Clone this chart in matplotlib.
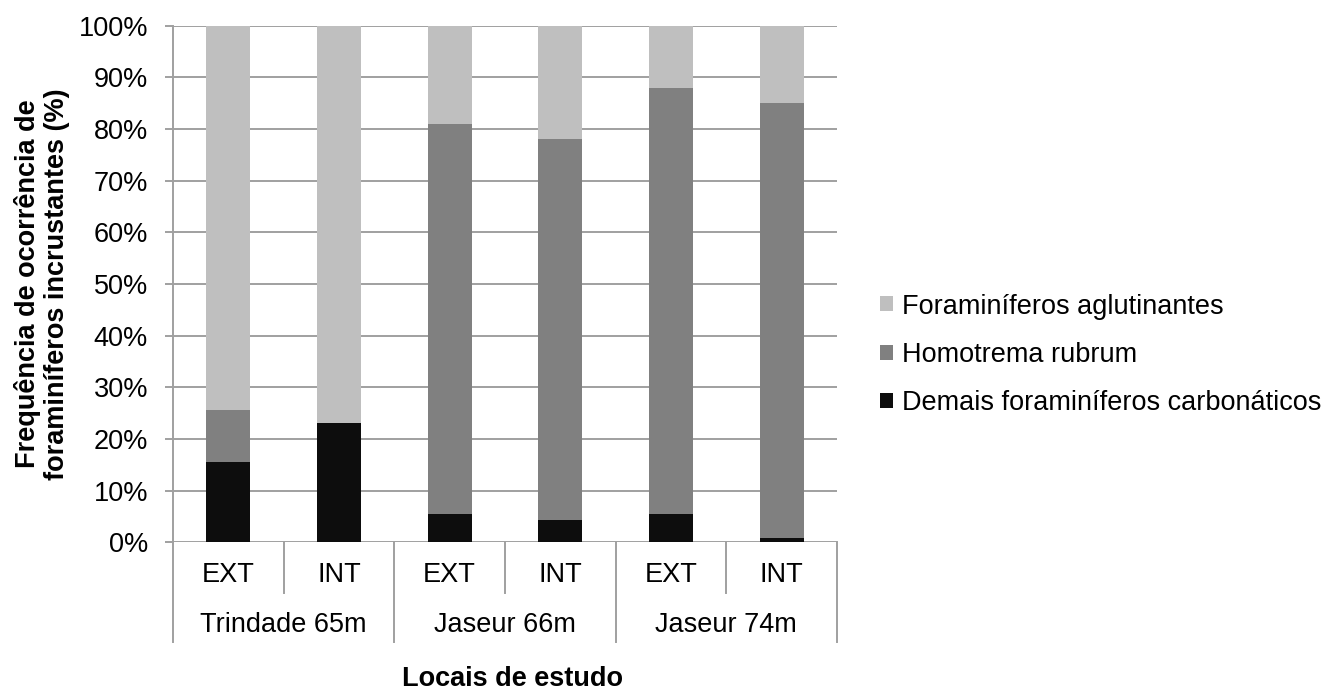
import matplotlib
matplotlib.use("Agg")
import matplotlib.pyplot as plt
from matplotlib.patches import Patch
import numpy as np

plt.rcParams['font.family'] = ['Liberation Sans', 'DejaVu Sans']

# Sampling sites and positions
sites = ["Trindade 65m", "Jaseur 66m", "Jaseur 74m"]
positions = ["EXT", "INT", "EXT", "INT", "EXT", "INT"]

# Frequency of occurrence (%) per group of encrusting foraminifera
demais_carbonaticos = [15.5, 23.0, 5.5, 4.3, 5.5, 0.9]
homotrema_rubrum = [10.2, 0.0, 75.4, 73.7, 82.4, 84.1]
aglutinantes = [74.3, 77.0, 19.1, 22.0, 12.1, 15.0]

series_names = ["Foraminíferos aglutinantes", "Homotrema rubrum",
                "Demais foraminíferos carbonáticos"]
c_light, c_mid, c_dark = "#BFBFBF", "#808080", "#0D0D0D"
grid_c = "#A0A0A0"
fs = 19.5

W, H = 1331, 690
fig = plt.figure(figsize=(W / 100, H / 100), dpi=100)
ax_left, ax_right, ax_top, ax_bot = 173, 837, 25.7, 542.3
ax = fig.add_axes([ax_left / W, 1 - ax_bot / H,
                   (ax_right - ax_left) / W, (ax_bot - ax_top) / H])

x = np.arange(len(positions))
bw = 0.4
b1 = np.array(demais_carbonaticos)
b2 = np.array(homotrema_rubrum)
b3 = np.array(aglutinantes)
ax.bar(x, b1, bw, color=c_dark, zorder=3)
ax.bar(x, b2, bw, bottom=b1, color=c_mid, zorder=3)
ax.bar(x, b3, bw, bottom=b1 + b2, color=c_light, zorder=3)

ax.set_xlim(-0.5, len(positions) - 0.5)
ax.set_ylim(0, 100)
ax.set_yticks(np.arange(0, 101, 10))
ax.set_yticklabels([f"{v}%" for v in range(0, 101, 10)], fontsize=fs)
ax.yaxis.grid(True, color=grid_c, linewidth=1.4, zorder=0)
ax.set_axisbelow(True)
ax.tick_params(axis='y', length=6, width=1.4, color=grid_c, pad=12)
ax.set_xticks([])
for s in ["top", "right", "bottom"]:
    ax.spines[s].set_visible(False)
ax.spines["left"].set_color(grid_c)
ax.spines["left"].set_linewidth(1.4)

# Two-level category axis drawn below the plot
ah = ax_bot - ax_top
def yf(ypix):
    return (ax_bot - ypix) / ah

trans = ax.get_xaxis_transform()
for i, lab in enumerate(positions):
    ax.text(i, yf(575), lab, transform=trans, ha="center", va="center",
            fontsize=fs, clip_on=False)
for g, site in enumerate(sites):
    ax.text(2 * g + 0.5, yf(625), site, transform=trans, ha="center",
            va="center", fontsize=fs, clip_on=False)
for b in np.arange(-0.5, len(positions), 1.0):
    k = int(round(b + 0.5))
    bottom = yf(642) if k % 2 == 0 else yf(593)
    ax.plot([b, b], [0, bottom], transform=trans, color=grid_c,
            linewidth=1.4, clip_on=False)

fig.text(512 / W, 1 - 679 / H, "Locais de estudo",
         ha="center", va="center", fontsize=fs, fontweight="bold")
fig.text(42.5 / W, 1 - 284 / H,
         "Frequência de ocorrência de\nforaminíferos incrustantes (%)",
         ha="center", va="center", rotation=90, fontsize=fs,
         fontweight="bold", linespacing=1.15)

handles = [Patch(facecolor=c_light), Patch(facecolor=c_mid),
           Patch(facecolor=c_dark)]
fig.legend(handles, series_names, loc="center left",
           bbox_to_anchor=(880 / W, 1 - 355 / H), frameon=False,
           fontsize=fs, handlelength=0.48, handleheight=0.48,
           handletextpad=0.32, labelspacing=0.83, borderpad=0,
           borderaxespad=0)

fig.savefig("out.png", dpi=100)
